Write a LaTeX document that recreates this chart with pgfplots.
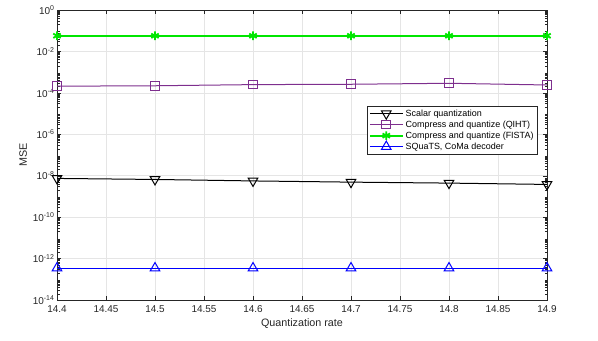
\documentclass[border=0pt]{standalone}
\usepackage{pgfplots}
\pgfplotsset{compat=1.18}
\usepackage{fontspec}
\setmainfont{Liberation Sans}
\usetikzlibrary{calc}

\definecolor{mpurple}{rgb}{0.494,0.184,0.556}
\definecolor{mgreen}{HTML}{00E600}
\definecolor{axgray}{rgb}{0.15,0.15,0.15}

% minor ticks for the log axis, 2..9 in every decade
\def\myminor{1e0}
\foreach \e in {-14,...,-1}{\foreach \m in {2,...,9}{\xdef\myminor{\myminor,\m e\e}}}

\begin{document}
\begin{tikzpicture}[x=1bp,y=1bp]
\begin{axis}[
    width=490bp, height=290bp, scale only axis,
    ymode=log,
    xmin=14.4, xmax=14.9,
    ymin=1e-14, ymax=1,
    xtick={14.4,14.45,...,14.91},
    xticklabel style={/pgf/number format/fixed,/pgf/number format/precision=2, yshift=-2bp},
    /pgf/number format/assume math mode=true,
    ytick={1e-14,1e-12,1e-10,1e-8,1e-6,1e-4,1e-2,1},
    yticklabels={10\textsuperscript{-14},10\textsuperscript{-12},10\textsuperscript{-10},10\textsuperscript{-8},10\textsuperscript{-6},10\textsuperscript{-4},10\textsuperscript{-2},10\textsuperscript{0}},
    yticklabel style={xshift=1bp},
    minor ytick/.expand once=\myminor,
    tick align=inside,
    major tick length=4bp, minor tick length=2.5bp,
    axis line style={axgray},
    every tick/.style={axgray},
    xmajorgrids, ymajorgrids,
    grid style={gray!20, line width=0.5bp},
    ticklabel style={font=\fontsize{10}{12}\selectfont, text=axgray},
    xlabel={Quantization rate}, ylabel={MSE},
    label style={font=\fontsize{10.8}{13}\selectfont, text=axgray},
    xlabel style={yshift=1bp},
    ylabel style={yshift=-1bp},
    legend style={at={(0.98,0.669)}, anchor=north east, draw=axgray,
        font=\fontsize{9}{10}\selectfont, inner sep=1.5bp, row sep=-1bp,
        cells={anchor=west}},
    legend image code/.code={
        \draw[mark repeat=2,mark phase=2] plot coordinates {(0cm,0cm) (0.58cm,0cm) (1.16cm,0cm)};},
]
\addplot[black, line width=1bp, mark=triangle, mark size=5.5bp, mark options={rotate=180, solid}]
  coordinates {(14.4,7.4e-9) (14.5,6.6e-9) (14.6,5.6e-9) (14.7,4.9e-9) (14.8,4.4e-9) (14.9,3.8e-9)};
\addlegendentry{Scalar quantization}
\addplot[mpurple, line width=1bp, mark=square, mark size=4.3bp]
  coordinates {(14.4,2.1e-4) (14.5,2.2e-4) (14.6,2.5e-4) (14.7,2.6e-4) (14.8,2.9e-4) (14.9,2.4e-4)};
\addlegendentry{Compress and quantize (QIHT)}
\addplot[color=mgreen, line width=1.8bp, mark=asterisk, mark size=4.3bp]
  coordinates {(14.4,0.057) (14.5,0.057) (14.6,0.057) (14.7,0.057) (14.8,0.057) (14.9,0.057)};
\addlegendentry{Compress and quantize (FISTA)}
\addplot[blue, line width=1bp, mark=triangle, mark size=5.5bp]
  coordinates {(14.4,3.5e-13) (14.5,3.5e-13) (14.6,3.5e-13) (14.7,3.5e-13) (14.8,3.5e-13) (14.9,3.5e-13)};
\addlegendentry{SQuaTS, CoMa decoder}
\end{axis}
\path ($(current axis.south west)+(-57bp,-41bp)$) rectangle ($(current axis.north east)+(51bp,10bp)$);
\end{tikzpicture}
\end{document}
